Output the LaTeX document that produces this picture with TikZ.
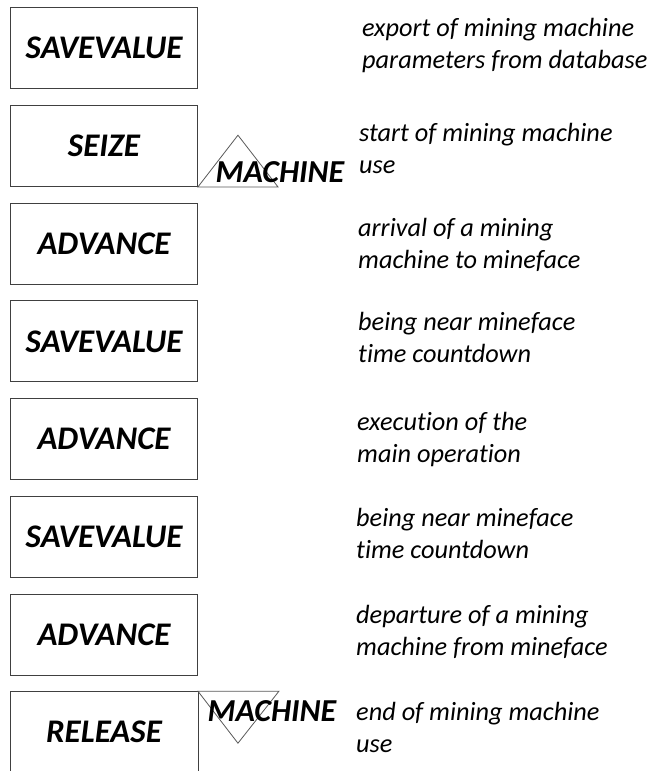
\documentclass[tikz,border=0pt]{standalone}
\usepackage{fontspec}
\setmainfont{Carlito}[Ligatures=CommonOff]
\usetikzlibrary{chains, positioning}

\begin{document}
\begin{tikzpicture}[x=1pt, y=-1pt, node distance=15.8pt,
    block/.style={draw=black!75, line width=0.9pt, minimum width=187pt,
      minimum height=81pt, inner sep=0pt,
      font=\fontsize{33}{33}\selectfont\bfseries\itshape},
    facility/.style={inner sep=0pt,
      font=\fontsize{32}{32}\selectfont\bfseries\itshape},
    tri/.style={draw=black!65, line width=0.8pt},
    note/.style={anchor=base west, align=left, inner sep=0pt,
      font=\fontsize{26.3}{32}\selectfont\itshape}]
  \useasboundingbox (0,0) rectangle (649,771);

  \begin{scope}[start chain=going below]
    \node[on chain, block] (sv1) at (104,48.25) {SAVEVALUE};
    \node[on chain, block] (seize) {SEIZE};
    \node[on chain, block] (adv1)  {ADVANCE};
    \node[on chain, block] (sv2)   {SAVEVALUE};
    \node[on chain, block] (adv2)  {ADVANCE};
    \node[on chain, block] (sv3)   {SAVEVALUE};
    \node[on chain, block] (adv3)  {ADVANCE};
    \node[on chain, block, draw=none, minimum height=80pt] (rel) {RELEASE};
  \end{scope}

  % open box at the bottom edge
  \draw[black!75, line width=0.9pt] (rel.south west) -- (rel.north west)
    -- (rel.north east) -- (rel.south east);

  \draw[tri] (seize.south east) -- ++(40,-51.7) -- ++(40,51.7) -- cycle;
  \draw[tri] (rel.north east) -- ++(81,0) -- ++(-41,52) -- cycle;
  \node[facility] (mach1) at (280,172) {MACHINE};
  \node[facility] (mach2) at (272,711) {MACHINE};

  % base = baseline of the second line
  \node[note] (d1) at (362,68)  {export of mining machine\\parameters from database};
  \node[note] (d2) at (359,173) {start of mining machine\\use};
  \node[note] (d3) at (358,268) {arrival of a mining\\machine to mineface};
  \node[note] (d4) at (358,362) {being near mineface\\time countdown};
  \node[note] (d5) at (357,462) {execution of the\\main operation};
  \node[note] (d6) at (356,558) {being near mineface\\time countdown};
  \node[note] (d7) at (356,655) {departure of a mining\\machine from mineface};
  \node[note] (d8) at (356,752) {end of mining machine\\use};
\end{tikzpicture}
\end{document}
